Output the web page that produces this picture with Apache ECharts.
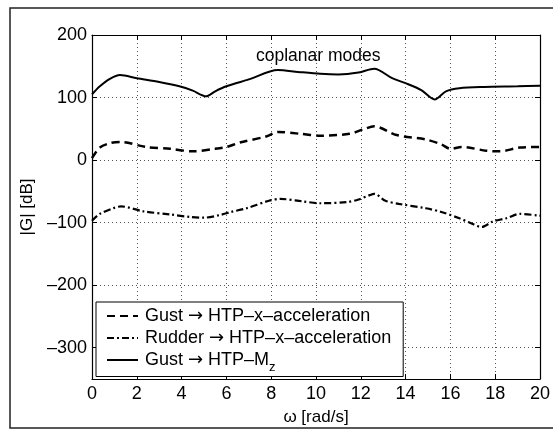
<!DOCTYPE html>
<html>
<head>
<meta charset="utf-8">
<script src="https://cdn.jsdelivr.net/npm/echarts@6/dist/echarts.min.js"></script>
<style>html,body{margin:0;padding:0;background:#fff}#c{width:553px;height:431px}</style>
</head>
<body>
<div id="c"></div>
<script>
var FONT = '"Liberation Sans", Arial, Helvetica, sans-serif';
var xTicks = [0, 2, 4, 6, 8, 10, 12, 14, 16, 18, 20];
var yTicks = [-300, -200, -100, 0, 100, 200];

var gustAccName = 'Gust \u2192 HTP\u2013x\u2013acceleration';
var rudderAccName = 'Rudder \u2192 HTP\u2013x\u2013acceleration';
var gustMzName = 'Gust \u2192 HTP\u2013Mz';

var gustAccOmega = [0, 0.35, 0.8, 1.3, 2.4, 3.5, 4.5, 5.5, 6, 6.6, 7.8, 8.3, 9.3, 10.2, 11.5, 12.1, 12.6, 13.6, 14.9, 15.6, 16, 16.5, 17.6, 18.2, 19.1, 20];
var gustAccDb    = [3, 20, 27, 29, 21, 18, 14, 18, 21, 28, 38, 45, 42, 39, 42, 49, 54, 40, 33, 25, 18, 21, 15, 14, 20, 21];

var rudderAccOmega = [0, 0.35, 0.95, 1.3, 2.3, 3.5, 4.4, 5, 5.7, 6.2, 6.9, 7.9, 8.4, 9.4, 10.2, 11.4, 11.9, 12.4, 12.6, 13.1, 13.7, 14.9, 15.6, 16.4, 16.8, 17.4, 17.9, 18.5, 19.1, 20];
var rudderAccDb    = [-97, -86, -77, -74, -82, -87, -91, -92, -88, -83, -77, -65, -62, -66, -69, -67, -63, -56, -54, -65, -70, -77, -83, -93, -99, -107, -98, -93, -86, -89];

var gustMzOmega = [0, 0.35, 0.8, 1.25, 2, 3, 3.9, 4.5, 5.1, 5.5, 6, 7, 8.3, 9.2, 10.2, 11, 11.9, 12.6, 13.4, 14, 14.7, 15.3, 15.8, 16.4, 17.5, 19, 20];
var gustMzDb    = [105, 118, 130, 136, 131, 125, 118, 111, 102, 110, 118, 129, 144, 141, 138, 137, 140, 146, 131, 123, 112, 97, 110, 115, 117, 118, 119];

function pairs(xs, ys) { return xs.map(function (x, i) { return [x, ys[i]]; }); }
function richName(n) {
  var s = n.replace('\u2192', '{arr|\u2192}');
  if (n === gustMzName) s = s.replace(/Mz$/, 'M{sub|z}');
  return s;
}

var chart = echarts.init(document.getElementById('c'), null, {renderer: 'canvas'});
var gridLine = {show: true, lineStyle: {color: '#555', type: [1, 3], width: 1}};
var axisLine = {show: true, onZero: false, lineStyle: {color: '#000', width: 1.2}};
var tickIn = {show: true, inside: true, length: 5, lineStyle: {color: '#000'}};

chart.setOption({
  animation: false,
  backgroundColor: '#fff',
  textStyle: {fontFamily: FONT},
  title: {
    text: 'coplanar modes', left: 251, top: 42,
    textStyle: {fontFamily: FONT, fontSize: 17.5, fontWeight: 'normal', color: '#000'}
  },
  graphic: [{
    type: 'rect', shape: {x: 10, y: 8, width: 560, height: 420},
    style: {fill: 'none', stroke: '#222', lineWidth: 1.5}, silent: true, z: -1
  }],
  grid: {left: 92, right: 12, top: 35, bottom: 50},
  legend: {
    orient: 'vertical', left: 96, top: 302,
    padding: [5, 12, 3, 10], itemGap: 4, itemWidth: 31, itemHeight: 14,
    backgroundColor: '#fff', borderColor: '#000', borderWidth: 1,
    itemStyle: {opacity: 0, borderWidth: 0},
    data: [gustAccName, rudderAccName, gustMzName],
    formatter: richName,
    textStyle: {
      fontFamily: FONT, fontSize: 18, color: '#000', padding: [0, 0, 0, 2],
      rich: {
        arr: {fontFamily: '"DejaVu Sans", sans-serif', fontSize: 18, color: '#000'},
        sub: {fontFamily: FONT, fontSize: 13, color: '#000', padding: [14, 0, 0, 0]}
      }
    }
  },
  xAxis: [{
    type: 'value', min: 0, max: 20, interval: 2, position: 'bottom',
    name: '\u03c9 [rad/s]', nameLocation: 'middle', nameGap: 30,
    nameTextStyle: {fontFamily: FONT, fontSize: 17, color: '#000'},
    axisLine: axisLine, axisTick: tickIn,
    axisLabel: {fontFamily: FONT, fontSize: 18, color: '#000', margin: 6, customValues: xTicks},
    splitLine: gridLine
  }, {
    type: 'value', min: 0, max: 20, interval: 2, position: 'top',
    axisLine: axisLine, axisTick: tickIn, axisLabel: {show: false}, splitLine: {show: false}
  }],
  yAxis: [{
    type: 'value', min: -350, max: 200, position: 'left',
    name: '|G| [dB]', nameLocation: 'middle', nameGap: 34, nameRotate: 90,
    nameTextStyle: {fontFamily: FONT, fontSize: 17, color: '#000'},
    axisLine: axisLine,
    axisTick: {show: true, inside: true, length: 5, lineStyle: {color: '#000'}, customValues: yTicks},
    axisLabel: {
      fontFamily: FONT, fontSize: 18, color: '#000', margin: 5, customValues: yTicks,
      formatter: function (v) { return String(v).replace('-', '\u2013'); }
    },
    splitLine: gridLine
  }, {
    type: 'value', min: -350, max: 200, position: 'right',
    axisLine: axisLine,
    axisTick: {show: true, inside: true, length: 5, lineStyle: {color: '#000'}, customValues: yTicks},
    axisLabel: {show: false, customValues: yTicks}, splitLine: {show: false}
  }],
  series: [{
    name: gustAccName, type: 'line', data: pairs(gustAccOmega, gustAccDb),
    symbol: 'none', smooth: 0.3, xAxisIndex: 0, yAxisIndex: 0,
    lineStyle: {color: '#000', width: 2.5, type: [8, 5]}, itemStyle: {color: '#000'}
  }, {
    name: rudderAccName, type: 'line', data: pairs(rudderAccOmega, rudderAccDb),
    symbol: 'none', smooth: 0.3,
    lineStyle: {color: '#000', width: 2.2, type: [7, 3, 2, 3]}, itemStyle: {color: '#000'}
  }, {
    name: gustMzName, type: 'line', data: pairs(gustMzOmega, gustMzDb),
    symbol: 'none', smooth: 0.3,
    lineStyle: {color: '#000', width: 2, type: 'solid'}, itemStyle: {color: '#000'}
  }]
});
</script>
</body>
</html>
